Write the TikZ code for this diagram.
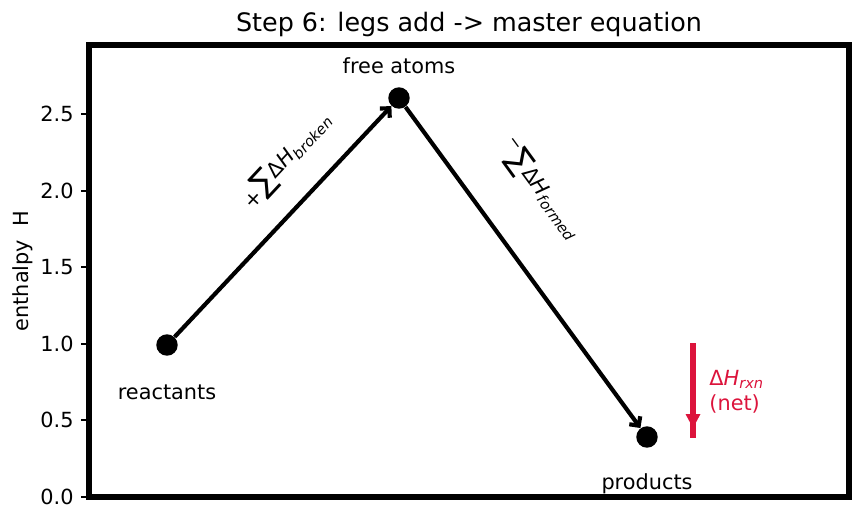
\documentclass[tikz,border=0pt]{standalone}
\usepackage{fontspec}
\setmainfont{DejaVu Sans}
\usetikzlibrary{arrows.meta,calc}
\definecolor{crim}{RGB}{220,20,60}
\newcommand{\bigsumsym}{{\fontsize{15}{15}\selectfont\raisebox{-1.5pt}{∑}}}
\begin{document}
\begin{tikzpicture}[x=0.48pt,y=-0.48pt,
  spine/.style={line width=2.5pt},
  tickmark/.style={line width=0.9pt},
  ticklab/.style={font=\fontsize{10}{12}\selectfont, anchor=east, inner sep=0pt},
  dot/.style={circle, fill=black, inner sep=0pt, minimum size=10.3pt},
  leg/.style={line width=2pt, -{Straight Barb[length=3.2pt,width=6.5pt,line width=2pt]}},
  lab/.style={font=\fontsize{10}{12}\selectfont, inner sep=0pt},
  netline/.style={crim, line width=2.6pt}]
\useasboundingbox (0,0) rectangle (862,524);
% title
\node[font=\fontsize{12.2}{14}\selectfont, inner sep=0pt] (title) at (469,24) {Step 6: legs add -> master equation};
% ticks
\foreach \v/\yy in {0.0/497,0.5/420.4,1.0/343.8,1.5/267.2,2.0/190.6,2.5/114} {
  \draw[tickmark] (81,\yy) -- (89,\yy);
  \node[ticklab] at (74,\yy) {\v};
}
\node[lab, rotate=90] (ylab) at (23,271) {enthalpy\ \ H};
% frame
\draw[spine] (89,45) rectangle (849,497);
% points
\node[dot] (r) at (167,345) {};
\node[dot] (f) at (399,98) {};
\node[dot] (p) at (647,437) {};
% legs
\draw[leg] (r) -- (f);
\draw[leg] (f) -- (p);
% point labels
\node[lab] (rl) at (167,392) {reactants};
\node[lab] (fl) at (399,66) {free atoms};
\node[lab] (pl) at (647,484) {products};
% leg labels
\node[lab, rotate=47] (bl) at (287,160) {\raisebox{-2pt}{+}\bigsumsym Δ\textit{H}\textsubscript{\textit{broken}}};
\node[lab, rotate=-54] (fml) at (540,190) {\raisebox{4pt}{\fontsize{8}{8}\selectfont −}\bigsumsym Δ\textit{H}\textsubscript{\textit{formed}}};
% net arrow
\coordinate (nt) at (693,343);
\coordinate (nb) at (693,438);
\draw[netline] (nt) -- (nb);
\fill[crim] ($(nb)+(-7.5,-24)$) -- ($(nb)+(7.5,-24)$) -- ($(nb)+(0,-10)$) -- cycle;
\node[lab, text=crim, anchor=west, align=left] (nl) at (709,392) {Δ\textit{H}\textsubscript{\textit{rxn}}\\(net)};
\end{tikzpicture}
\end{document}
